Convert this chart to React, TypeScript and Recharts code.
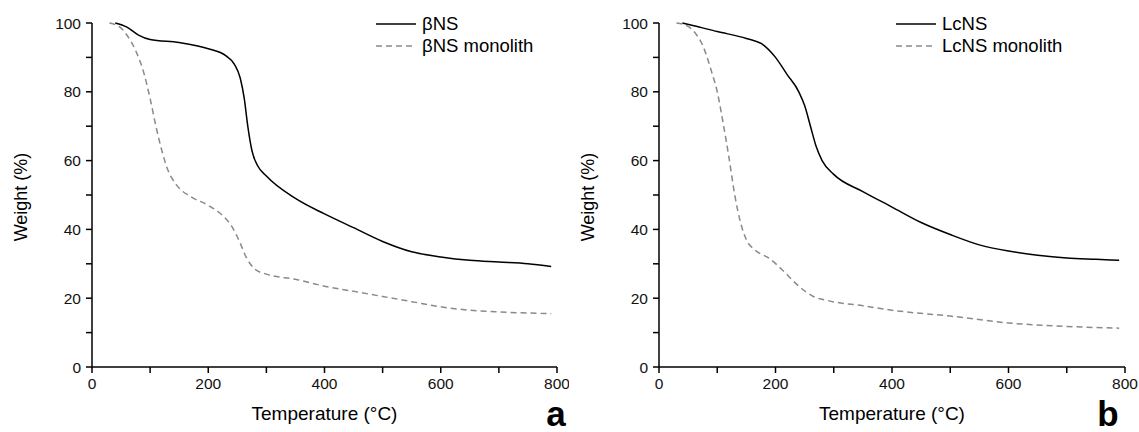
import { Legend, Line, LineChart, XAxis, YAxis } from "recharts";

// temperature (°C) / weight (%)
const betaNsTemp = [40, 60, 80, 100, 150, 200, 230, 245, 255, 262, 268, 275, 285, 300, 350, 400, 450, 500, 550, 600, 650, 700, 750, 790];
const betaNsWeight = [100, 98.8, 96.5, 95.2, 94.3, 92.5, 90.5, 88, 84, 78, 70, 63, 58.5, 55.5, 49, 44.5, 40.5, 36.5, 33.5, 32, 31, 30.5, 30, 29.2];

const betaMonoTemp = [30, 50, 60, 75, 90, 100, 110, 120, 130, 145, 170, 200, 225, 240, 255, 265, 280, 300, 350, 400, 450, 500, 550, 600, 650, 700, 750, 790];
const betaMonoWeight = [100, 98.5, 96.5, 92, 85, 78, 70, 63, 57.5, 53, 49.5, 47, 44, 41, 36, 32, 28.5, 27, 25.5, 23.5, 22, 20.5, 19, 17.5, 16.5, 16, 15.7, 15.5];

const lcNsTemp = [40, 60, 100, 150, 180, 200, 220, 240, 250, 260, 270, 280, 300, 350, 400, 450, 500, 550, 600, 650, 700, 750, 790];
const lcNsWeight = [100, 99.2, 97.5, 95.5, 93.5, 90, 85, 80, 76, 70, 64, 60, 56, 51, 46.5, 42, 38.5, 35.5, 33.7, 32.5, 31.7, 31.3, 31];

const lcMonoTemp = [30, 50, 60, 75, 90, 100, 110, 120, 130, 140, 150, 165, 190, 210, 240, 265, 290, 350, 400, 500, 600, 700, 790];
const lcMonoWeight = [100, 99, 97.5, 93.5, 86, 80, 71, 61, 50, 42, 37, 34, 31.5, 28.5, 23.5, 20.5, 19.3, 17.8, 16.5, 14.8, 12.8, 11.8, 11.3];

const xTicks = [0, 100, 200, 300, 400, 500, 600, 700, 800];
const yTicks = [0, 10, 20, 30, 40, 50, 60, 70, 80, 90, 100];

const FONT = "'Liberation Sans', Arial, sans-serif";
const GREY = "#8a8a8a";

const zip = (t: number[], w: number[]) => t.map((temp, i) => ({ t: temp, w: w[i] }));

function LegendBox({ names }: { names: string[] }) {
  return (
    <div style={{ fontFamily: FONT, fontSize: 18.5, color: "#000", lineHeight: 1 }}>
      {names.map((name, i) => (
        <div key={name} style={{ display: "flex", alignItems: "center", height: 22 }}>
          <svg width={40} height={10} style={{ marginRight: 6 }}>
            <line
              x1={0}
              y1={5}
              x2={40}
              y2={5}
              stroke={i === 0 ? "#000" : GREY}
              strokeWidth={1.5}
              strokeDasharray={i === 0 ? undefined : "6 4"}
            />
          </svg>
          <span>{name}</span>
        </div>
      ))}
    </div>
  );
}

function Panel({
  solid,
  dashed,
  names,
  letter,
  letterX,
  marginLeft,
  marginRight,
  width,
  legendLeft
}: {
  solid: Array<{ t: number; w: number }>;
  dashed: Array<{ t: number; w: number }>;
  names: string[];
  letter: string;
  letterX: number;
  marginLeft: number;
  marginRight: number;
  width: number;
  legendLeft: number;
}) {
  const plotLeft = marginLeft + 60;
  const plotRight = width - marginRight;
  return (
    <LineChart width={width} height={432} margin={{ top: 23, right: marginRight, bottom: 35, left: marginLeft }}>
      <XAxis
        type="number"
        dataKey="t"
        domain={[0, 800]}
        ticks={xTicks}
        tickFormatter={(v: number) => (v % 200 === 0 ? String(v) : "")}
        stroke="#000"
        strokeWidth={1.5}
        tickSize={6}
        tickMargin={5}
        height={30}
        tick={{ fill: "#111", fontSize: 15.5, fontFamily: FONT }}
        allowDuplicatedCategory={false}
      />
      <YAxis
        type="number"
        domain={[0, 100]}
        ticks={yTicks}
        tickFormatter={(v: number) => (v % 20 === 0 ? String(v) : "")}
        stroke="#000"
        strokeWidth={1.5}
        tickSize={6}
        tickMargin={5}
        width={60}
        tick={{ fill: "#111", fontSize: 15.5, fontFamily: FONT }}
      />
      <Legend
        layout="horizontal"
        verticalAlign="middle"
        align="center"
        wrapperStyle={{ top: 13, left: legendLeft, width: 200 }}
        content={() => <LegendBox names={names} />}
      />
      <Line data={solid} dataKey="w" type="monotone" stroke="#000" strokeWidth={1.5} dot={false} isAnimationActive={false} />
      <Line
        data={dashed}
        dataKey="w"
        type="monotone"
        stroke={GREY}
        strokeWidth={1.5}
        strokeDasharray="6 4"
        dot={false}
        isAnimationActive={false}
      />
      <text
        x={marginLeft - 10}
        y={197}
        transform={`rotate(-90, ${marginLeft - 10}, 197)`}
        textAnchor="middle"
        dominantBaseline="middle"
        fontFamily={FONT}
        fontSize={18}
        fill="#000"
      >
        Weight (%)
      </text>
      <text x={(plotLeft + plotRight) / 2} y={420} textAnchor="middle" fontFamily={FONT} fontSize={19} fill="#000">
        Temperature (°C)
      </text>
      <text x={letterX} y={426} textAnchor="middle" fontFamily={FONT} fontSize={35} fontWeight="bold" fill="#000">
        {letter}
      </text>
    </LineChart>
  );
}

export default function App() {
  return (
    <div style={{ position: "absolute", left: 0, top: 0, width: 1139, height: 432, background: "#fff", display: "flex" }}>
      <Panel
        solid={zip(betaNsTemp, betaNsWeight)}
        dashed={zip(betaMonoTemp, betaMonoWeight)}
        names={["βNS", "βNS monolith"]}
        letter="a"
        letterX={556}
        marginLeft={32}
        marginRight={12}
        width={569}
        legendLeft={376}
      />
      <Panel
        solid={zip(lcNsTemp, lcNsWeight)}
        dashed={zip(lcMonoTemp, lcMonoWeight)}
        names={["LcNS", "LcNS monolith"]}
        letter="b"
        letterX={539}
        marginLeft={30}
        marginRight={14}
        width={570}
        legendLeft={327}
      />
    </div>
  );
}
